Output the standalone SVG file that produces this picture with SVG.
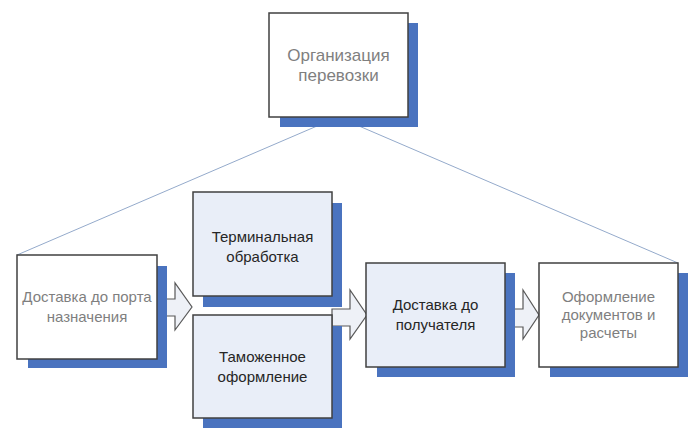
<svg xmlns="http://www.w3.org/2000/svg" width="700" height="440" viewBox="0 0 700 440">
<style>
.sh{fill:#4a73bf}
.bw{fill:#ffffff;stroke:#404040;stroke-width:1.5}
.bb{fill:#e9eef8;stroke:#404040;stroke-width:1.5}
.tg{font-family:"Liberation Sans",Arial,sans-serif;font-size:15px;fill:#7f7f7f;text-anchor:middle}
.td{font-family:"Liberation Sans",Arial,sans-serif;font-size:15px;fill:#262626;text-anchor:middle}
.big{font-size:17px}
.ln{stroke:#94aacb;stroke-width:1;fill:none}
.ar{fill:#eef1f7;stroke:#595959;stroke-width:1.2}
</style>
<rect width="700" height="440" fill="#ffffff"/>
<g id="connectors">
<line class="ln" x1="338" y1="117" x2="17" y2="255"/>
<line class="ln" x1="338" y1="117" x2="678" y2="263"/>
<polygon class="ar" points="157,299 175,299 175,283 192,307 175,330 175,316 157,316"/>
<polygon class="ar" points="332,309 350,309 350,290 367,315 350,339 350,326 332,326"/>
<polygon class="ar" points="505,309 523,309 523,290 539,315 523,339 523,327 505,327"/>
</g>
<g id="org">
<rect class="sh" x="280" y="23" width="138" height="104"/>
<rect class="bw" x="269" y="13" width="139" height="104"/>
<text class="tg big" x="338.5" y="61">Организация</text>
<text class="tg big" x="338.5" y="81">перевозки</text>
</g>
<g id="port">
<rect class="sh" x="28" y="266" width="139" height="102"/>
<rect class="bw" x="17" y="255" width="140" height="104"/>
<text class="tg" x="87" y="302">Доставка до порта</text>
<text class="tg" x="87" y="322">назначения</text>
</g>
<g id="terminal">
<rect class="sh" x="203" y="203" width="139" height="104"/>
<rect class="bb" x="193" y="192" width="139" height="104"/>
<text class="td" x="262.5" y="242">Терминальная</text>
<text class="td" x="262.5" y="262">обработка</text>
</g>
<g id="customs">
<rect class="sh" x="203" y="326" width="139" height="102"/>
<rect class="bb" x="193" y="315" width="139" height="103"/>
<text class="td" x="262.5" y="362">Таможенное</text>
<text class="td" x="262.5" y="382">оформление</text>
</g>
<g id="delivery">
<rect class="sh" x="377" y="273" width="138" height="104"/>
<rect class="bb" x="366" y="263" width="139" height="104"/>
<text class="td" x="435.5" y="310">Доставка до</text>
<text class="td" x="435.5" y="330">получателя</text>
</g>
<g id="docs">
<rect class="sh" x="550" y="273" width="138" height="104"/>
<rect class="bw" x="539" y="263" width="139" height="104"/>
<text class="tg" x="608.5" y="302">Оформление</text>
<text class="tg" x="608.5" y="320">документов и</text>
<text class="tg" x="608.5" y="338">расчеты</text>
</g>
</svg>
